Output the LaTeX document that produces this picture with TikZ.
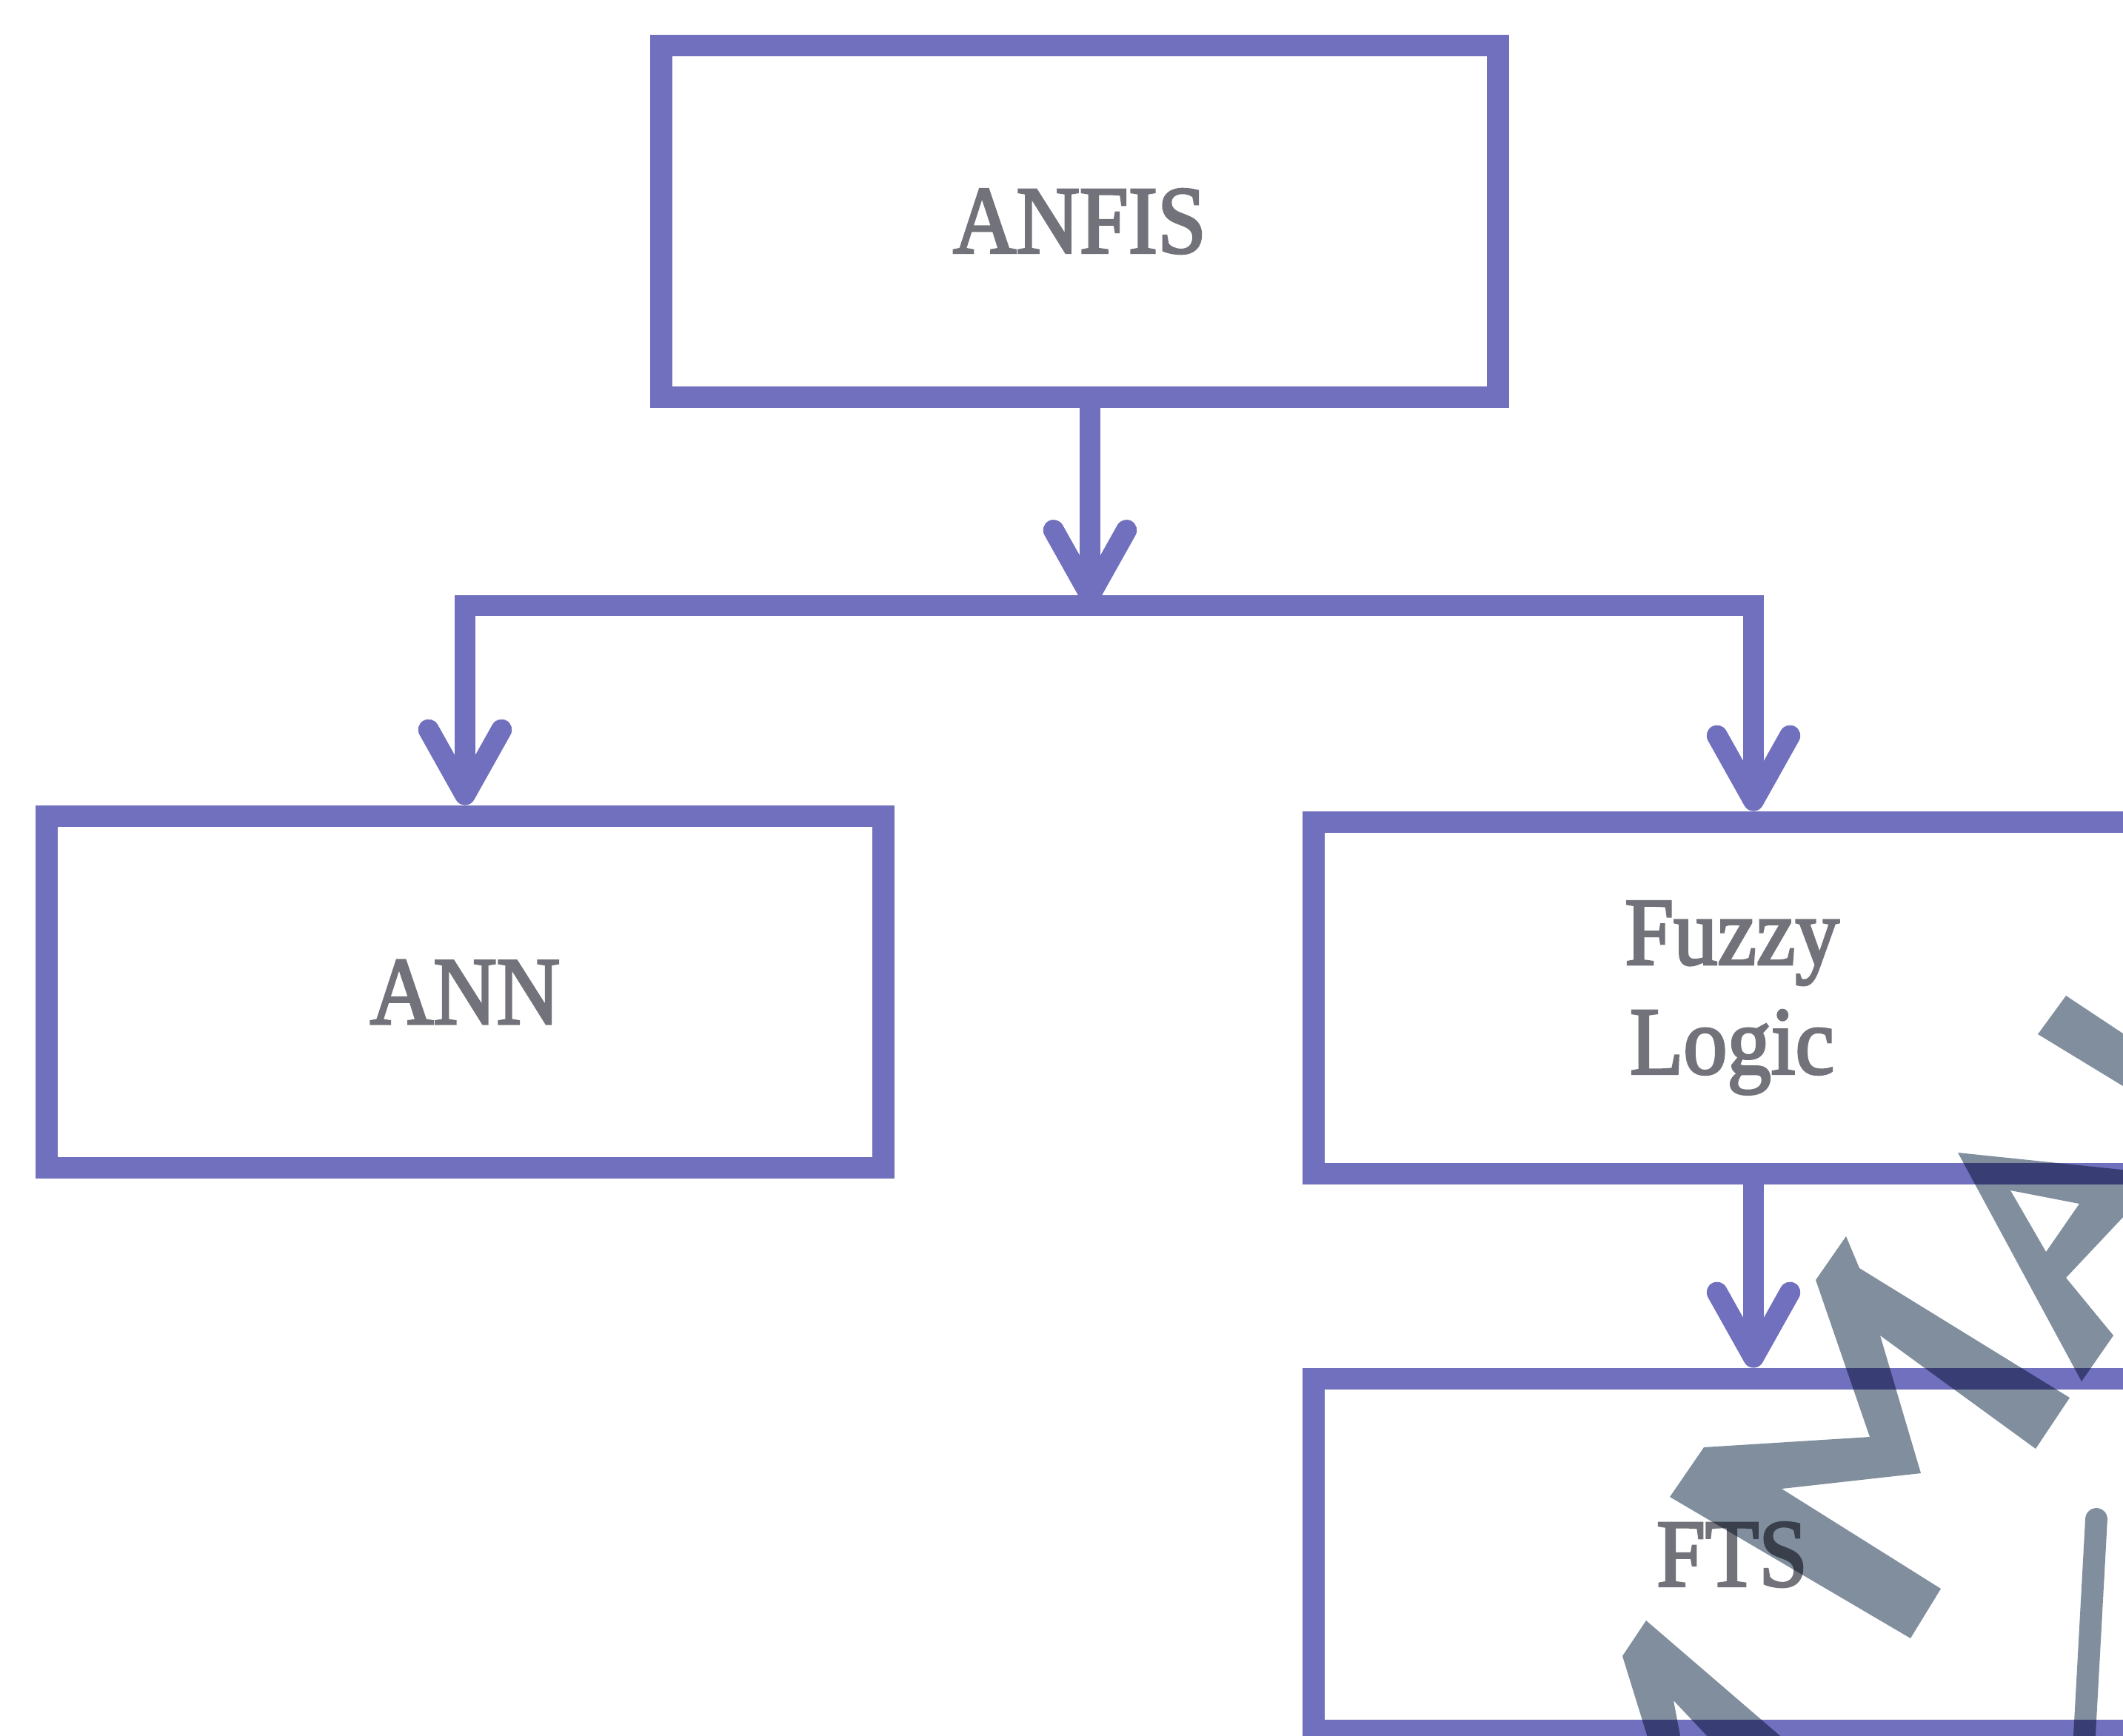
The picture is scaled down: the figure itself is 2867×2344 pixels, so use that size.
\documentclass[tikz,border=0pt]{standalone}
\usepackage{fontspec}
\setmainfont{Liberation Serif}[FakeStretch=0.91, FakeBold=2.5]
\usetikzlibrary{arrows.meta}
\definecolor{boxline}{RGB}{112,112,190}
\definecolor{labelgrey}{RGB}{114,114,122}
\definecolor{stampgrey}{RGB}{128,142,157}

\begin{document}
\begin{tikzpicture}
[x=0.1mm, y=-0.1mm,
>={Straight Barb[length=25pt, width=28pt, line width=8pt, round]},
block/.style={draw=boxline, line width=8.5pt, minimum width=113mm,
  minimum height=47.5mm, inner sep=0pt, text=labelgrey, align=center,
  font=\fontsize{37pt}{42pt}\selectfont},
flow/.style={draw=boxline, line width=8pt},
stamp/.style={fill=stampgrey}]
  \useasboundingbox (0,0) rectangle (2867,2344);
  \clip (0,0) rectangle (2867,2344);
  % boxes
  \node [block] (anfis) at (1458,299) {ANFIS};
  \node [block] (ann) at (628,1340) {ANN};
  \node [block] (fuzzy) at (2339,1348) {Fuzzy\\Logic};
  \node [block] (fts) at (2339,2100) {FTS};
  % connectors
  \coordinate (split) at (1472,818);
  \coordinate (forkR) at (2368,818);
  \draw [flow, ->] (anfis.south -| split) -- (split);
  \draw [flow, ->] (split) -| (ann.north);
  \draw [flow, ->] (split) -| (fuzzy.north -| forkR);
  \draw [flow, ->] (fuzzy.south -| forkR) -- (fts.north -| forkR);
  % watermark
  \begin{scope}[blend mode=multiply]
  \fill [stamp] (2790,1345) -- (2885,1408) -- (2885,1478) -- (2752,1397) -- cycle;
  \fill [stamp, even odd rule] (2644,1557) -- (2885,1582) -- (2885,1625) -- (2790,1726)
    -- (2854,1804) -- (2811,1866) -- cycle
    (2715,1608) -- (2808,1626) -- (2763,1691) -- cycle;
  \fill [stamp] (2452,1729) -- (2493,1670) -- (2511,1713) -- (2795,1888) -- (2749,1957)
    -- (2539,1804) -- (2594,1990) -- (2406,2011) -- (2621,2146) -- (2580,2213)
    -- (2255,2022) -- (2301,1955) -- (2525,1941) -- cycle;
  \draw [stampgrey, line width=8.5pt, line cap=round] (2831,2052) -- (2813,2380);
  \fill [stamp, even odd rule] (2191,2237) -- (2223,2189) -- (2410,2350) -- (2226,2350) -- cycle
    (2260,2297) -- (2310,2350) -- (2270,2350) -- cycle;
  \end{scope}
\end{tikzpicture}
\end{document}
